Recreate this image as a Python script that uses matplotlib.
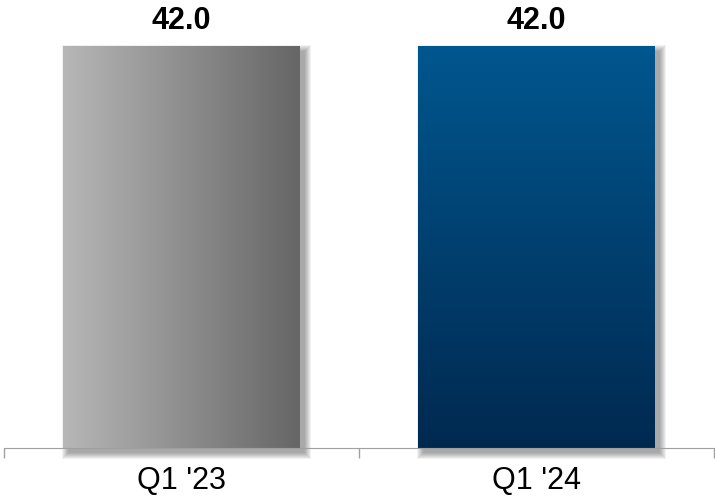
import numpy as np
import matplotlib.pyplot as plt
from matplotlib.patches import Rectangle
from matplotlib.colors import LinearSegmentedColormap
from matplotlib.transforms import IdentityTransform

# ---- data ----
categories = ["Q1 '23", "Q1 '24"]
values = [42.0, 42.0]
value_labels = ['42.0', '42.0']

plt.rcParams['font.family'] = ['Liberation Sans', 'DejaVu Sans']

fig = plt.figure(figsize=(7.15, 5.01), dpi=100)
ax = fig.add_axes([4 / 715, 53 / 501, 710 / 715, 448 / 501])

gray_cmap = LinearSegmentedColormap.from_list('g', ['#b7b7b7', '#666666'])
blue_cmap = LinearSegmentedColormap.from_list('b', ['#00578f', '#002950'])

width = 0.667
centers = [0.5, 1.5]
ax.set_xlim(0, 2)
ax.set_ylim(0, 46.8)

grad = np.linspace(0, 1, 256)
for i, (c, v) in enumerate(zip(centers, values)):
    x0, x1 = c - width / 2, c + width / 2
    # soft drop shadow, drawn in pixels
    (px0, py0) = ax.transData.transform((x0, 0))
    (px1, py1) = ax.transData.transform((x1, v))
    for r in range(7):
        sh = Rectangle((px0 + 5 - r, py0 - 5 - r), (px1 - px0) + 2 * r, (py1 - py0) + 2 * r,
                       transform=IdentityTransform(), facecolor='black', edgecolor='none',
                       alpha=0.055, zorder=1, clip_on=False)
        ax.add_patch(sh)
    bar = Rectangle((x0, 0), width, v, facecolor='none', edgecolor='none', zorder=3)
    ax.add_patch(bar)
    if i == 0:
        img = ax.imshow(grad.reshape(1, -1), extent=[x0, x1, 0, v], aspect='auto',
                        cmap=gray_cmap, zorder=3)
    else:
        img = ax.imshow(grad.reshape(-1, 1), extent=[x0, x1, 0, v], aspect='auto',
                        cmap=blue_cmap, zorder=3)
    img.set_clip_path(bar)
    ax.annotate(value_labels[i], (c, v), xytext=(0, 12.2), textcoords='offset points',
                ha='center', va='baseline', fontsize=22, fontweight='bold', color='black')

ax.set_xlim(0, 2)
ax.set_ylim(0, 46.8)

for s in ['top', 'right', 'left']:
    ax.spines[s].set_visible(False)
ax.spines['bottom'].set_color('#a0a0a0')
ax.spines['bottom'].set_zorder(5)
ax.set_yticks([])
ax.set_xticks([0, 1, 2])
ax.set_xticklabels([])
ax.tick_params(axis='x', which='major', length=7.2, color='#a0a0a0', width=1)
ax.set_xticks(centers, minor=True)
ax.set_xticklabels(categories, minor=True)
ax.tick_params(axis='x', which='minor', length=0, pad=13, labelsize=22)
ax.patch.set_visible(False)

fig.savefig('out.png', dpi=100)
